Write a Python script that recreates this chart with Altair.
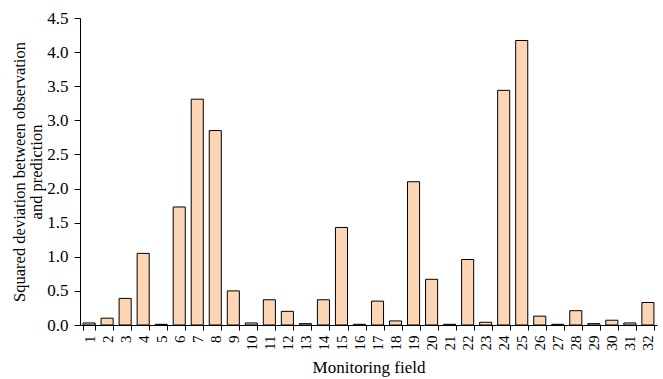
import altair as alt
import pandas as pd

fields = [str(i) for i in range(1, 33)]
values = [0.03, 0.10, 0.39, 1.05, 0.01, 1.73, 3.31, 2.85, 0.50, 0.03,
          0.37, 0.20, 0.02, 0.37, 1.43, 0.01, 0.35, 0.06, 2.10, 0.67,
          0.01, 0.96, 0.04, 3.44, 4.17, 0.13, 0.01, 0.21, 0.02, 0.07,
          0.03, 0.33]

df = pd.DataFrame({"field": fields, "value": values})

FONT = "Liberation Serif"

chart = alt.Chart(df).mark_bar(
    fill="#FCD5B4", stroke="#000000", strokeWidth=1
).encode(
    x=alt.X("field:N", sort=fields,
            scale=alt.Scale(paddingInner=0.33, paddingOuter=0.17),
            axis=alt.Axis(title="Monitoring field", labelAngle=270,
                          tickBand="extent", labelPadding=5,
                          labelFontSize=15, titlePadding=9, tickSize=5)),
    y=alt.Y("value:Q",
            scale=alt.Scale(domain=[0, 4.5], nice=False),
            axis=alt.Axis(title=["Squared deviation between observation", "and prediction"],
                          values=[0, 0.5, 1, 1.5, 2, 2.5, 3, 3.5, 4, 4.5],
                          format=".1f", grid=False,
                          titleX=-69, titleY=153.5, titleAngle=270,
                          titleBaseline="top", titleAlign="center",
                          titleFontSize=16.5, titleLineHeight=17,
                          labelFontSize=17, labelPadding=6, tickSize=6)),
).properties(
    width=577, height=307,
    autosize=alt.AutoSizeParams(type="none"),
    padding={"left": 80, "top": 18, "right": 6, "bottom": 54},
).configure_view(
    stroke=None
).configure_axis(
    labelFont=FONT, titleFont=FONT, labelFontSize=16, titleFontSize=17,
    titleFontWeight="normal", labelColor="#000000", titleColor="#000000",
    domainColor="#000000", tickColor="#000000",
)

chart.save("out.html", embed_options={"renderer": "svg", "actions": False})
